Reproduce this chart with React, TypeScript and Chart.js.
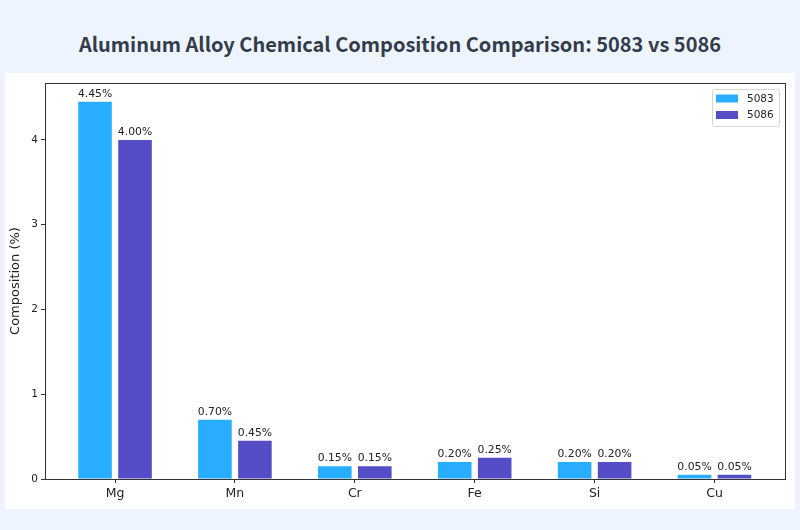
import React, { useEffect, useRef } from "react";
import { Chart, registerables } from "chart.js";

Chart.register(...registerables);

const elements = ["Mg", "Mn", "Cr", "Fe", "Si", "Cu"];
const series5083 = [4.45, 0.7, 0.15, 0.2, 0.2, 0.05];
const series5086 = [4.0, 0.45, 0.15, 0.25, 0.2, 0.05];
const yTicks = [0, 1, 2, 3, 4];

const COLOR_5083 = "#29ADFF";
const COLOR_5086 = "#554DC6";
const FONT = "'DejaVu Sans', sans-serif";

// draws the "4.45%" labels above each bar
const valueLabels = {
  id: "valueLabels",
  afterDatasetsDraw(chart: any) {
    const ctx = chart.ctx;
    ctx.save();
    ctx.font = `10.8px ${FONT}`;
    ctx.fillStyle = "#222";
    ctx.textAlign = "center";
    ctx.textBaseline = "alphabetic";
    chart.data.datasets.forEach((ds: any, i: number) => {
      const meta = chart.getDatasetMeta(i);
      meta.data.forEach((bar: any, j: number) => {
        const v = ds.data[j].y;
        ctx.fillText(v.toFixed(2) + "%", bar.x, bar.y - 5);
      });
    });
    ctx.restore();
  },
};

// axes box + matplotlib-like legend in the top right corner
const boxAndLegend = {
  id: "boxAndLegend",
  afterDraw(chart: any) {
    const { ctx, chartArea } = chart;
    ctx.save();
    ctx.strokeStyle = "#333";
    ctx.lineWidth = 1;
    ctx.strokeRect(
      Math.round(chartArea.left) + 0.5,
      Math.round(chartArea.top) + 0.5,
      Math.round(chartArea.right - chartArea.left),
      Math.round(chartArea.bottom - chartArea.top)
    );

    const w = 67;
    const h = 37;
    const x0 = chartArea.right - 6 - w;
    const y0 = chartArea.top + 6;
    ctx.fillStyle = "rgba(255,255,255,0.8)";
    ctx.strokeStyle = "#d6d6d6";
    ctx.beginPath();
    ctx.roundRect(x0 + 0.5, y0 + 0.5, w, h, 2);
    ctx.fill();
    ctx.stroke();

    ctx.font = `10.5px ${FONT}`;
    ctx.textBaseline = "middle";
    ctx.textAlign = "left";
    chart.data.datasets.forEach((ds: any, i: number) => {
      const cy = y0 + 9.5 + i * 16.5;
      ctx.fillStyle = ds.backgroundColor;
      ctx.fillRect(x0 + 4, cy - 4, 22, 8);
      ctx.fillStyle = "#222";
      ctx.fillText(ds.label, x0 + 35, cy + 0.5);
    });
    ctx.restore();
  },
};

export default function App() {
  const canvasRef = useRef<HTMLCanvasElement>(null);
  const chartRef = useRef<Chart | null>(null);

  useEffect(() => {
    if (!canvasRef.current) return;
    if (chartRef.current) chartRef.current.destroy();

    chartRef.current = new Chart(canvasRef.current, {
      type: "bar",
      data: {
        datasets: [
          {
            label: "5083",
            data: series5083.map((y, i) => ({ x: i, y })),
            backgroundColor: COLOR_5083,
            categoryPercentage: 0.667,
            barPercentage: 0.84,
          },
          {
            label: "5086",
            data: series5086.map((y, i) => ({ x: i, y })),
            backgroundColor: COLOR_5086,
            categoryPercentage: 0.667,
            barPercentage: 0.84,
          },
        ],
      },
      options: {
        responsive: false,
        animation: false,
        layout: { padding: { top: 10, right: 10, left: 0, bottom: 0 } },
        plugins: {
          legend: { display: false },
          tooltip: { enabled: false },
        },
        scales: {
          x: {
            type: "linear",
            offset: false,
            min: -0.584,
            max: 5.588,
            afterBuildTicks: (scale: any) => {
              scale.ticks = elements.map((_, i) => ({ value: i }));
            },
            afterFit: (scale: any) => {
              scale.height = 30;
            },
            ticks: {
              callback: (v: any) => elements[v] ?? "",
              color: "#222",
              font: { family: FONT, size: 12.5 },
              padding: 3,
              maxRotation: 0,
              autoSkip: false,
            },
            grid: {
              offset: false,
              drawOnChartArea: false,
              drawTicks: true,
              tickLength: 4,
              color: "#333",
            },
            border: { display: true, color: "#333" },
          },
          y: {
            min: 0,
            max: 4.6725,
            afterBuildTicks: (scale: any) => {
              scale.ticks = yTicks.map((v) => ({ value: v }));
            },
            afterFit: (scale: any) => {
              scale.width = 40;
            },
            ticks: {
              color: "#222",
              font: { family: FONT, size: 10.5 },
              padding: 3,
            },
            grid: {
              drawOnChartArea: false,
              drawTicks: true,
              tickLength: 4,
              color: "#333",
            },
            border: { display: true, color: "#333" },
            title: {
              display: true,
              text: "Composition (%)",
              color: "#222",
              font: { family: FONT, size: 13 },
              padding: { top: 3, bottom: 4 },
            },
          },
        },
      },
      plugins: [valueLabels, boxAndLegend],
    } as any);

    return () => {
      if (chartRef.current) {
        chartRef.current.destroy();
        chartRef.current = null;
      }
    };
  }, []);

  return (
    <div
      style={{
        position: "fixed",
        left: 0,
        top: 0,
        width: 800,
        height: 530,
        background: "#EEF4FD",
      }}
    >
      <div
        style={{
          position: "absolute",
          left: 0,
          top: 29,
          width: 800,
          textAlign: "center",
          fontFamily: "'Noto Sans CJK SC', 'Noto Sans', sans-serif",
          fontWeight: 700,
          fontSize: 20,
          lineHeight: "30px",
          color: "#333C4B",
        }}
      >
        Aluminum Alloy Chemical Composition Comparison: 5083 vs 5086
      </div>
      <div
        style={{
          position: "absolute",
          left: 5,
          top: 73,
          width: 790,
          height: 436,
          background: "#fff",
        }}
      >
        <canvas ref={canvasRef} width={790} height={436} />
      </div>
    </div>
  );
}
